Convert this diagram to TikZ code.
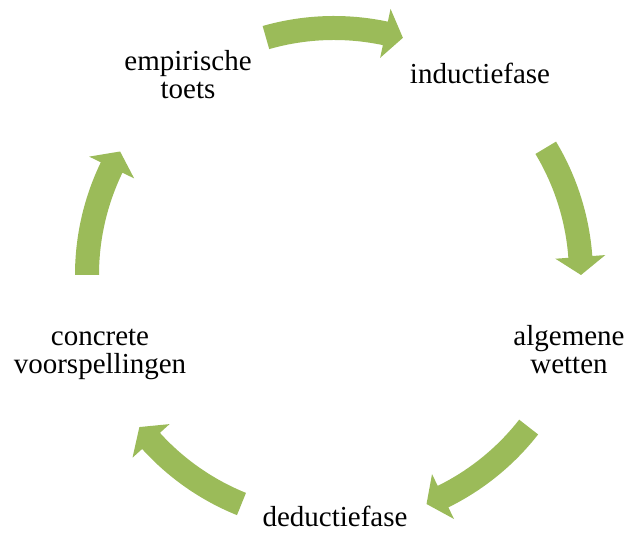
\documentclass[tikz,border=0pt]{standalone}
\usepackage{fontspec}
\setmainfont{Liberation Serif}
\definecolor{arrowgreen}{HTML}{9BBB59}
\tikzset{
  lbl/.style={inner sep=0pt, anchor=base, align=center, font=\fontsize{29}{28}\selectfont},
  arrowfill/.style={fill=arrowgreen}
}
\newcommand\cycarrow[3]{%
  \fill[arrowfill] (#1:259) arc[start angle=#1, end angle=#2, radius=259]
    -- (#2:272) -- (#3:247) -- (#2:222)
    -- (#2:235) arc[start angle=#2, end angle=#1, radius=235] -- cycle;}
\begin{document}
\begin{tikzpicture}[x=1pt,y=1pt]
\useasboundingbox (0,0) rectangle (626,537);
\node[lbl] (emp) at (188,438) {empirische\\toets};
\node[lbl] (ind) at (480,453) {inductiefase};
\node[lbl] (alg) at (569,163) {algemene\\wetten};
\node[lbl] (con) at (100,163) {concrete\\voorspellingen};
\node[lbl] (ded) at (335,10) {deductiefase};
\begin{scope}[shift={(334,262)}]
  \cycarrow{106}{78.0}{73.8}
  \cycarrow{31}{4.2}{0}
  \cycarrow{-38}{-63.8}{-68}
  \cycarrow{-112}{-137.8}{-142}
  \cycarrow{180}{154.2}{150}
\end{scope}
\end{tikzpicture}
\end{document}
